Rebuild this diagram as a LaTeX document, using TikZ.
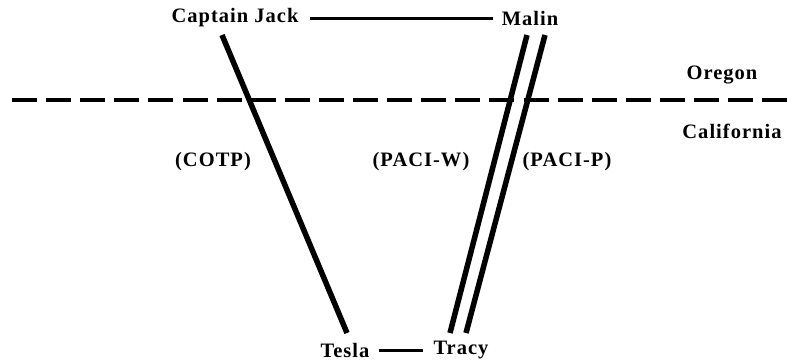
\documentclass[tikz,border=0pt]{standalone}
\usepackage{fontspec}
\setmainfont{Liberation Serif}[LetterSpace=5]
\begin{document}
\begin{tikzpicture}[x=1pt,y=-1pt,
  lbl/.style={font=\bfseries\fontsize{20.5}{24}\selectfont, inner sep=0pt},
  link/.style={line width=3pt},
  route/.style={line width=5.5pt},
  border/.style={line width=3.8pt, dash pattern=on 25pt off 9.1pt}]
\useasboundingbox (0,0) rectangle (790,360);
\node[lbl] (cj) at (235,18) {Captain Jack};
\node[lbl] (malin) at (530,18) {Malin};
\node[lbl] (tesla) at (345,350) {Tesla};
\node[lbl] (tracy) at (461,350) {Tracy};
\node[lbl] (or) at (722,75) {Oregon};
\node[lbl] (ca) at (732,131) {California};
\node[lbl] (cotp) at (213,162) {(COTP)};
\node[lbl] (paciw) at (421,162) {(PACI-W)};
\node[lbl] (pacip) at (567,162) {(PACI-P)};
\coordinate (bl) at (12,100);
\coordinate (br) at (790,100);
\coordinate (c1) at (222,35);
\coordinate (c2) at (347,333);
\coordinate (w1) at (527,35);
\coordinate (w2) at (450,333);
\coordinate (p1) at (545,35);
\coordinate (p2) at (466,333);
\coordinate (cjr) at (310,18);
\coordinate (mal) at (493,18);
\coordinate (tsr) at (379,350);
\coordinate (trl) at (423,350);
\draw[link] (cjr) -- (mal);
\draw[link] (tsr) -- (trl);
\draw[border] (bl) -- (br);
\draw[route] (c1) -- (c2);
\draw[route] (w1) -- (w2);
\draw[route] (p1) -- (p2);
\end{tikzpicture}
\end{document}
